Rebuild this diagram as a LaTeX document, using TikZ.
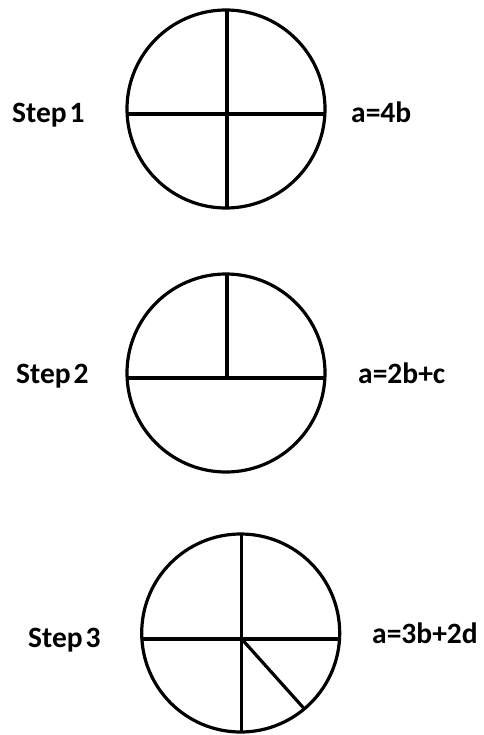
\documentclass[tikz,border=0pt]{standalone}
\usepackage{fontspec}
\setmainfont{Carlito}
\newcommand\mylblfont{\fontsize{29.5}{31}\selectfont\bfseries\spaceskip=0.1em\relax}
\begin{document}
\begin{tikzpicture}[x=1pt,y=-1pt,
  wheel/.style={circle,draw,line width=3.2pt,minimum size=198pt,inner sep=0pt,outer sep=0pt},
  cut/.style={line width=3.2pt},
  lbl/.style={anchor=base west,inner sep=0pt,font=\mylblfont}]
\useasboundingbox (0,0) rectangle (483,735);
% Step 1
\node[wheel] (c1) at (226,109) {};
\coordinate (h1w) at ([yshift=-5pt]c1.west);
\coordinate (h1e) at ([yshift=-5pt]c1.east);
\draw[cut] (h1w) -- (h1e);
\draw[cut] ([xshift=1pt]c1.north) -- ([xshift=1pt]c1.south);
\node[lbl] (s1) at (12,122.5) {Step 1};
\node[lbl] (e1) at (351,122.5) {a=4b};
% Step 2
\node[wheel] (c2) at (226,373) {};
\coordinate (h2w) at ([yshift=-5pt]c2.west);
\coordinate (h2e) at ([yshift=-5pt]c2.east);
\coordinate (m2) at ([xshift=1pt,yshift=-5pt]c2.center);
\draw[cut] (h2w) -- (h2e);
\draw[cut] ([xshift=1pt]c2.north) -- (m2);
\node[lbl] (s2) at (16,383) {Step 2};
\node[lbl] (e2) at (358,383) {a=2b+c};
% Step 3
\node[wheel] (c3) at (240.7,633) {};
\coordinate (h3w) at ([yshift=-6pt]c3.west);
\coordinate (h3e) at ([yshift=-6pt]c3.east);
\coordinate (m3) at ([xshift=1pt,yshift=-6pt]c3.center);
\draw[cut] (h3w) -- (h3e);
\draw[cut] ([xshift=1pt]c3.north) -- ([xshift=1pt]c3.south);
\draw[cut] (m3) -- (c3.-50);
\node[lbl] (s3) at (28,647) {Step 3};
\node[lbl] (e3) at (372,643) {a=3b+2d};
\end{tikzpicture}
\end{document}
